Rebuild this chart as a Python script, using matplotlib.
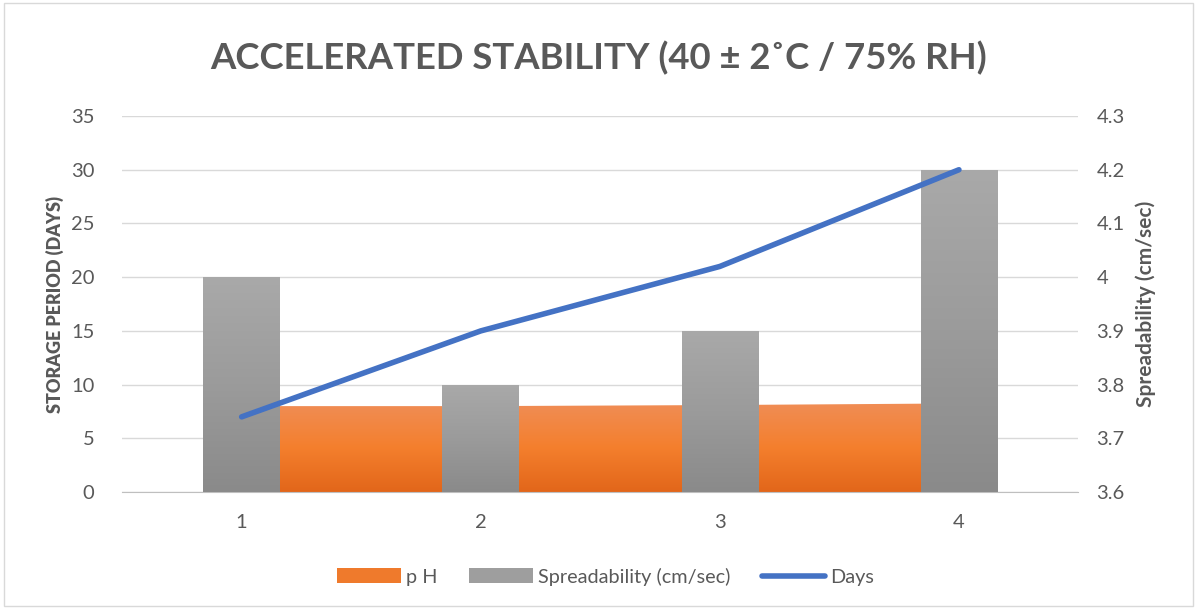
import matplotlib.pyplot as plt
import numpy as np
from matplotlib.patches import Patch
from matplotlib.lines import Line2D
from matplotlib.colors import LinearSegmentedColormap

plt.rcParams['font.family'] = ['Lato', 'DejaVu Sans']

samples = [1, 2, 3, 4]
ph = [8.0, 8.0, 8.1, 8.25]
spread = [4.0, 3.8, 3.9, 4.2]
days = [7, 15, 21, 30]

grey_txt = '#595959'

fig = plt.figure(figsize=(11.97, 6.09), dpi=100)
ax = fig.add_axes([0.102, 0.192, 0.799, 0.6175])
ax2 = ax.twinx()

# orange area (pH) on left axis, with vertical gradient
area = ax.fill_between(samples, 0, ph, color='none', lw=0)
grad = np.linspace(0, 1, 256).reshape(-1, 1)
orange_cm = LinearSegmentedColormap.from_list('o', ['#e2661a', '#f47f2d', '#f08d55'])
im = ax.imshow(grad, cmap=orange_cm, aspect='auto', origin='lower',
               extent=[samples[0], samples[-1], 0, max(ph)], zorder=2)
im.set_clip_path(area.get_paths()[0], transform=ax.transData)

# grey bars (spreadability) on right axis
grey_cm = LinearSegmentedColormap.from_list('g', ['#8a8a8a', '#9b9b9b', '#a9a9a9'])
bars = ax2.bar(samples, [s - 3.6 for s in spread], bottom=3.6, width=0.32,
               color='none', lw=0)
for b, s in zip(bars, spread):
    bim = ax2.imshow(grad, cmap=grey_cm, aspect='auto', origin='lower',
                     extent=[b.get_x(), b.get_x() + b.get_width(), 3.6, s], zorder=2)
    bim.set_clip_path(b)

# days line, drawn on top using left-axis scale
ax2.plot(samples, days, color='#4472c4', lw=4, solid_capstyle='round',
         transform=ax.transData, zorder=5)

ax.set_xlim(0.5, 4.5)
ax.set_ylim(0, 35)
ax2.set_ylim(3.6, 4.3)
ax.set_yticks(range(0, 36, 5))
ax2.set_yticks(np.round(np.arange(3.6, 4.31, 0.1), 1))
ax2.set_yticklabels(['3.6', '3.7', '3.8', '3.9', '4', '4.1', '4.2', '4.3'])
ax.set_xticks(samples)

ax.grid(axis='y', color='#d9d9d9', lw=1)
ax.set_axisbelow(True)
for a in (ax, ax2):
    for sp in a.spines.values():
        sp.set_visible(False)
    a.tick_params(length=0, labelsize=14.5, colors=grey_txt)
ax.spines['bottom'].set_visible(True)
ax.spines['bottom'].set_color('#bfbfbf')
ax.tick_params(axis='x', pad=16)
ax.tick_params(axis='y', pad=20)
ax2.tick_params(axis='y', pad=13)

ax.set_ylabel('STORAGE PERIOD (DAYS)', fontsize=13, fontweight='heavy',
              color=grey_txt, labelpad=5)
ax2.set_ylabel('Spreadability (cm/sec)', fontsize=15, fontweight='bold',
               color=grey_txt, labelpad=8)

fig.text(0.5, 0.905, 'ACCELERATED STABILITY (40 ± 2˚C / 75% RH)',
         ha='center', va='center', fontsize=26.3, fontweight='bold', color=grey_txt)

handles = [Patch(facecolor='#ef7a2c', label='p H'),
           Patch(facecolor='#9e9e9e', label='Spreadability (cm/sec)'),
           Line2D([], [], color='#4472c4', lw=4, solid_capstyle='round', label='Days')]
leg = fig.legend(handles=handles, loc='center', bbox_to_anchor=(0.506, 0.053), ncol=3,
                 frameon=False, fontsize=14.3, handlelength=3.2, handleheight=0.8,
                 columnspacing=1.6, handletextpad=0.25)
for t in leg.get_texts():
    t.set_color(grey_txt)

fig.patches.append(plt.Rectangle((0.003, 0.005), 0.994, 0.99, transform=fig.transFigure,
                                 fill=False, edgecolor='#d9d9d9', lw=1))

fig.savefig('out.png', dpi=100)
